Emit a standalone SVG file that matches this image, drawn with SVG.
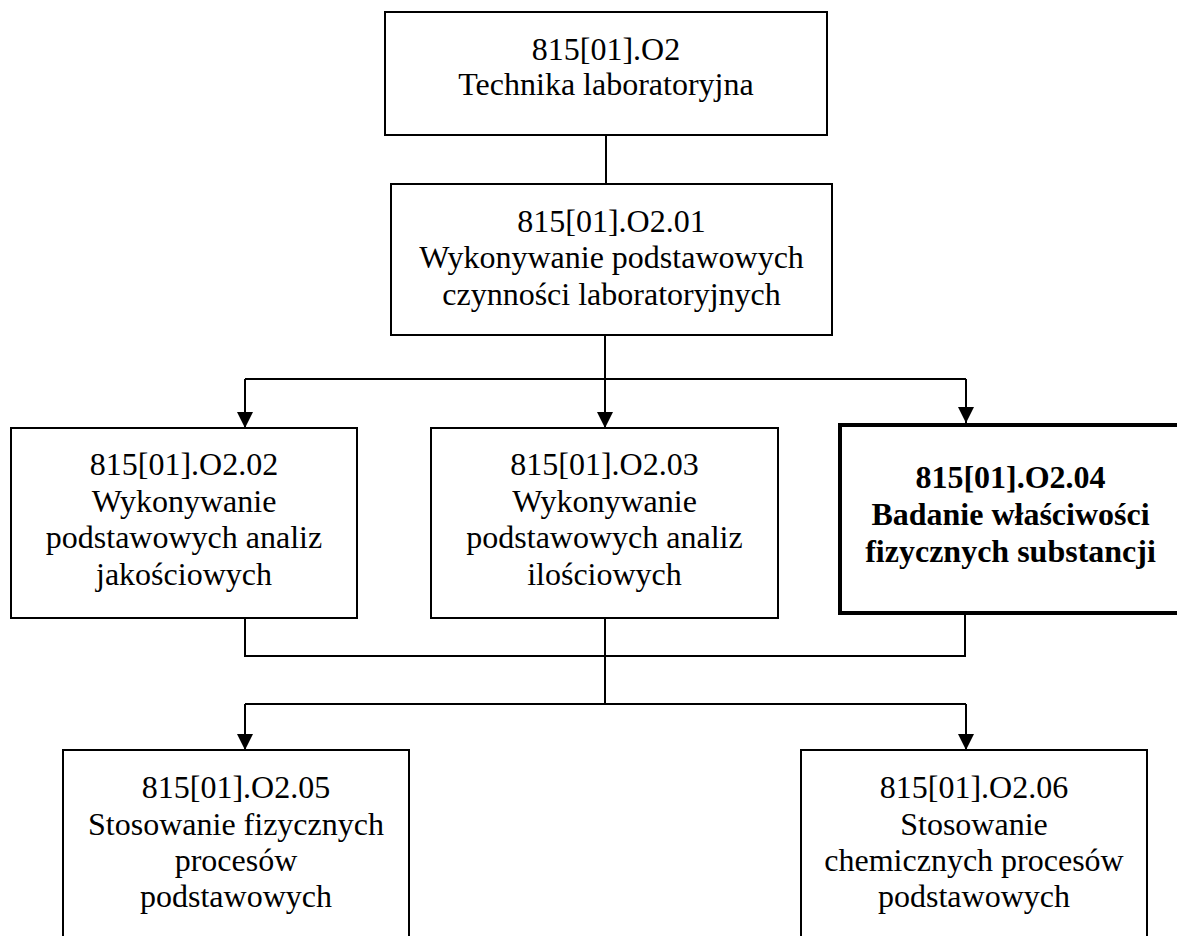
<svg xmlns="http://www.w3.org/2000/svg" width="1177" height="936" viewBox="0 0 1177 936">
<defs>
<style>
.box{fill:#fff;stroke:#000;stroke-width:2}
.bold{fill:#fff;stroke:#000;stroke-width:4}
.t{font-family:"Liberation Serif","Times New Roman",serif;font-size:32px;fill:#000;text-anchor:middle}
.tb{font-family:"Liberation Serif","Times New Roman",serif;font-size:32px;font-weight:bold;fill:#000;text-anchor:middle}
.c{fill:none;stroke:#000;stroke-width:2}
</style>
<marker id="arr" markerWidth="16" markerHeight="16" refX="16" refY="8" orient="auto" markerUnits="userSpaceOnUse">
<path d="M0,0 L16,8 L0,16 z" fill="#000"/>
</marker>
</defs>
<rect width="1177" height="936" fill="#fff"/>
<g id="connectors">
<path class="c" d="M606,135 V183"/>
<path class="c" d="M605,335 V379 M245,379 H966"/>
<path class="c" d="M245,379 V428" marker-end="url(#arr)"/>
<path class="c" d="M605,379 V428" marker-end="url(#arr)"/>
<path class="c" d="M966,379 V423" marker-end="url(#arr)"/>
<path class="c" d="M245,618 V656 H965 V613 M605,618 V704 M245,704 H966"/>
<path class="c" d="M245,704 V750" marker-end="url(#arr)"/>
<path class="c" d="M966,704 V750" marker-end="url(#arr)"/>
</g>
<g id="n0">
<rect class="box" x="385" y="12" width="442" height="123"/>
<text class="t" x="606" y="60">815[01].O2</text>
<text class="t" x="606" y="95">Technika laboratoryjna</text>
</g>
<g id="n1">
<rect class="box" x="391" y="184" width="441" height="151"/>
<text class="t" x="611.5" y="232">815[01].O2.01</text>
<text class="t" x="611.5" y="268">Wykonywanie podstawowych</text>
<text class="t" x="611.5" y="305">czynności laboratoryjnych</text>
</g>
<g id="n2">
<rect class="box" x="11" y="428" width="346" height="190"/>
<text class="t" x="184" y="475">815[01].O2.02</text>
<text class="t" x="184" y="512">Wykonywanie</text>
<text class="t" x="184" y="548">podstawowych analiz</text>
<text class="t" x="184" y="585">jakościowych</text>
</g>
<g id="n3">
<rect class="box" x="431" y="428" width="347" height="190"/>
<text class="t" x="604.5" y="475">815[01].O2.03</text>
<text class="t" x="604.5" y="512">Wykonywanie</text>
<text class="t" x="604.5" y="548">podstawowych analiz</text>
<text class="t" x="604.5" y="585">ilościowych</text>
</g>
<g id="n4">
<rect class="bold" x="840" y="425" width="340" height="188"/>
<text class="tb" x="1010.5" y="488">815[01].O2.04</text>
<text class="tb" x="1010.5" y="525">Badanie właściwości</text>
<text class="tb" x="1010.5" y="562">fizycznych substancji</text>
</g>
<g id="n5">
<rect class="box" x="63" y="750" width="346" height="200"/>
<text class="t" x="236" y="798">815[01].O2.05</text>
<text class="t" x="236" y="835">Stosowanie fizycznych</text>
<text class="t" x="236" y="871">procesów</text>
<text class="t" x="236" y="907">podstawowych</text>
</g>
<g id="n6">
<rect class="box" x="801" y="750" width="346" height="200"/>
<text class="t" x="974" y="798">815[01].O2.06</text>
<text class="t" x="974" y="835">Stosowanie</text>
<text class="t" x="974" y="871">chemicznych procesów</text>
<text class="t" x="974" y="907">podstawowych</text>
</g>
</svg>
